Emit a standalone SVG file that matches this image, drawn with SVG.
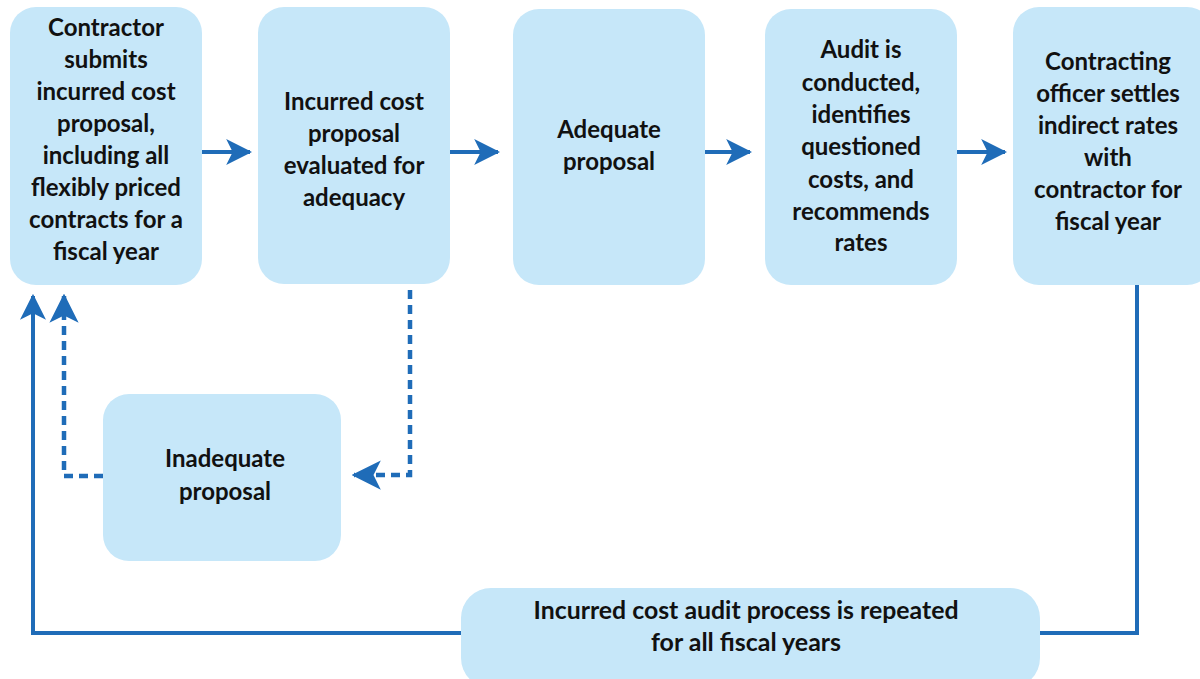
<svg xmlns="http://www.w3.org/2000/svg" width="1200" height="679" viewBox="0 0 1200 679">
<style>
.box{fill:#C6E7F9;}
.t{font-family:Lato,"Open Sans","Liberation Sans",sans-serif;font-weight:bold;font-size:24px;fill:#111;text-anchor:middle;}
.ln{stroke:#1F6CB8;stroke-width:4;fill:none;}
.dash{stroke:#1F6CB8;stroke-width:4.5;fill:none;stroke-dasharray:9 6;}
</style>
<defs>
<marker id="ah" viewBox="0 0 12 12" refX="11" refY="6" markerWidth="6.5" markerHeight="6.5" markerUnits="strokeWidth" orient="auto">
<path d="M0,0 L12,6 L0,12 L3,6 Z" fill="#1F6CB8"/>
</marker>
</defs>
<rect width="1200" height="679" fill="#fff"/>
<g id="n1"><rect class="box" x="10" y="7" width="192" height="278" rx="26"/>
<text class="t"><tspan x="106" y="36">Contractor</tspan><tspan x="106" y="68">submits</tspan><tspan x="106" y="100">incurred cost</tspan><tspan x="106" y="132">proposal,</tspan><tspan x="106" y="164">including all</tspan><tspan x="106" y="196">flexibly priced</tspan><tspan x="106" y="228">contracts for a</tspan><tspan x="106" y="260">fiscal year</tspan></text></g>
<g id="n2"><rect class="box" x="258" y="7" width="192" height="277" rx="26"/>
<text class="t"><tspan x="354" y="110">Incurred cost</tspan><tspan x="354" y="142">proposal</tspan><tspan x="354" y="174">evaluated for</tspan><tspan x="354" y="206">adequacy</tspan></text></g>
<g id="n3"><rect class="box" x="513" y="9" width="192" height="276" rx="26"/>
<text class="t"><tspan x="609" y="138">Adequate</tspan><tspan x="609" y="170">proposal</tspan></text></g>
<g id="n4"><rect class="box" x="765" y="9" width="192" height="276" rx="26"/>
<text class="t"><tspan x="861" y="58">Audit is</tspan><tspan x="861" y="91">conducted,</tspan><tspan x="861" y="123">identifies</tspan><tspan x="861" y="155">questioned</tspan><tspan x="861" y="188">costs, and</tspan><tspan x="861" y="220">recommends</tspan><tspan x="861" y="251">rates</tspan></text></g>
<g id="n5"><rect class="box" x="1013" y="7" width="200" height="278" rx="26"/>
<text class="t"><tspan x="1108" y="70">Contracting</tspan><tspan x="1108" y="102">officer settles</tspan><tspan x="1108" y="134">indirect rates</tspan><tspan x="1108" y="166">with</tspan><tspan x="1108" y="198">contractor for</tspan><tspan x="1108" y="230">fiscal year</tspan></text></g>
<g id="n6"><rect class="box" x="103" y="394" width="238" height="167" rx="26"/>
<text class="t"><tspan x="225" y="467">Inadequate</tspan><tspan x="225" y="500">proposal</tspan></text></g>
<g id="n7"><rect class="box" x="461" y="588" width="579" height="100" rx="30"/>
<text class="t"><tspan x="746" y="619" textLength="425" lengthAdjust="spacingAndGlyphs">Incurred cost audit process is repeated</tspan><tspan x="746" y="651" textLength="190" lengthAdjust="spacingAndGlyphs">for all fiscal years</tspan></text></g>
<g id="connectors">
<line class="ln" x1="202" y1="152" x2="250" y2="152" marker-end="url(#ah)"/>
<line class="ln" x1="450" y1="152" x2="498" y2="152" marker-end="url(#ah)"/>
<line class="ln" x1="705" y1="152" x2="750" y2="152" marker-end="url(#ah)"/>
<line class="ln" x1="957" y1="152" x2="1005" y2="152" marker-end="url(#ah)"/>
<polyline class="ln" points="1137,285 1137,633 1040,633"/>
<polyline class="ln" points="461,633 33,633 33,296" marker-end="url(#ah)"/>
<polyline class="dash" points="410,290 410,475 354,475" marker-end="url(#ah)"/>
<polyline class="dash" points="103,476 64,476 64,296" marker-end="url(#ah)"/>
</g>
</svg>
